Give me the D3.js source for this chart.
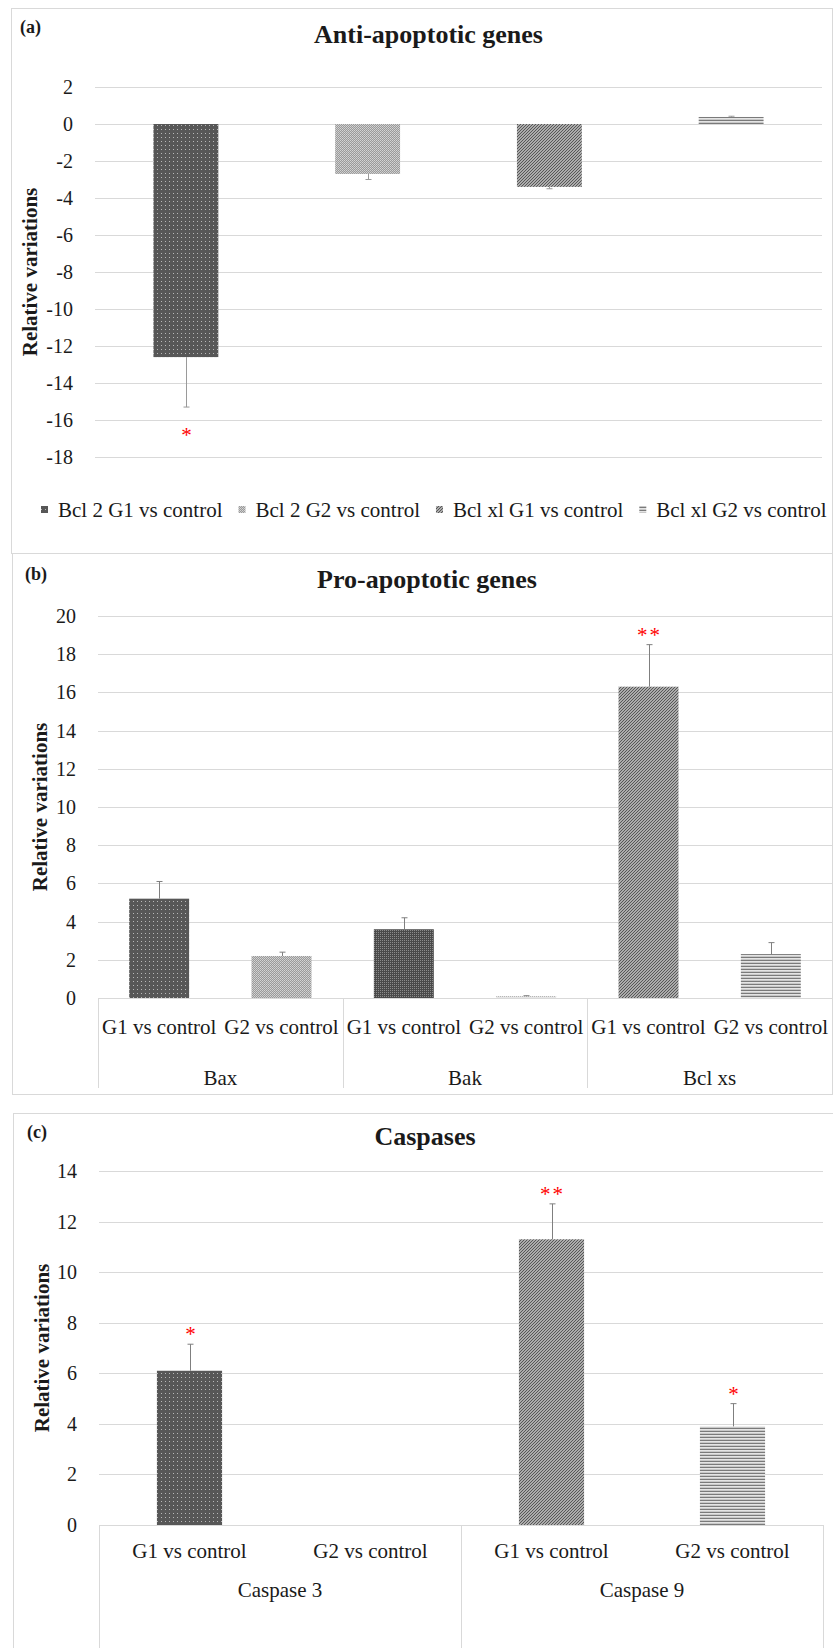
<!DOCTYPE html>
<html>
<head>
<meta charset="utf-8">
<script src="https://cdn.jsdelivr.net/npm/d3@7"></script>
<style>
  body { margin: 0; background: #fff; }
  svg, text { font-family: "Liberation Serif", "Times New Roman", serif; }
  text { fill: #1a1a1a; }
</style>
</head>
<body>
<script>
// panel (a) anti-apoptotic genes
var antiCats = ["Bcl 2 G1 vs control", "Bcl 2 G2 vs control", "Bcl xl G1 vs control", "Bcl xl G2 vs control"];
var antiVals = [-12.6, -2.7, -3.4, 0.38];
var antiErr = [2.7, 0.3, 0.1, 0.04];
var antiSig = ["*", "", "", ""];
var antiPat = ["dots", "mesh", "diag", "hlines"];
var antiTicks = [-18, -16, -14, -12, -10, -8, -6, -4, -2, 0, 2];

// panel (b) pro-apoptotic genes
var proGroups = ["Bax", "Bak", "Bcl xs"];
var subCats = ["G1 vs control", "G2 vs control"];
var proVals = [5.2, 2.2, 3.6, 0.1, 16.3, 2.3];
var proErr = [0.9, 0.2, 0.6, 0.02, 2.2, 0.6];
var proSig = ["", "", "", "", "**", ""];
var proPat = ["dots", "mesh", "darkmesh", "faint", "diag", "hlines"];
var proTicks = [0, 2, 4, 6, 8, 10, 12, 14, 16, 18, 20];

// panel (c) caspases
var caspGroups = ["Caspase 3", "Caspase 9"];
var caspVals = [6.1, 0, 11.3, 3.9];
var caspErr = [1.05, 0, 1.4, 0.9];
var caspSig = ["*", "", "**", "*"];
var caspPat = ["dots", "mesh", "diag", "hlines"];
var caspTicks = [0, 2, 4, 6, 8, 10, 12, 14];

var svg = d3.select("body").append("svg")
    .attr("width", 833)
    .attr("height", 1648)
    .attr("font-family", "Liberation Serif, serif");

// fill patterns like the excel ones
var defs = svg.append("defs");
function pattern(id, w, h, bg) {
  var p = defs.append("pattern").attr("id", id)
      .attr("patternUnits", "userSpaceOnUse")
      .attr("width", w).attr("height", h);
  p.append("rect").attr("width", w).attr("height", h).attr("fill", bg);
  return p;
}
var p1 = pattern("dots", 4, 4, "#575757");
p1.append("rect").attr("x", 1).attr("y", 1).attr("width", 1).attr("height", 1).attr("fill", "#b8b8b8");
var p2 = pattern("mesh", 2, 2, "#9a9a9a");
p2.append("rect").attr("width", 1).attr("height", 1).attr("fill", "#d4d4d4");
p2.append("rect").attr("x", 1).attr("y", 1).attr("width", 1).attr("height", 1).attr("fill", "#c8c8c8");
var p3 = pattern("darkmesh", 2, 2, "#4a4a4a");
p3.append("rect").attr("width", 1).attr("height", 1).attr("fill", "#8c8c8c");
var p4 = pattern("faint", 2, 2, "#e6e6e6");
p4.append("rect").attr("width", 1).attr("height", 1).attr("fill", "#b0b0b0");
var p5 = pattern("diag", 3, 3, "#d0d0d0");
p5.append("path").attr("d", "M0,3 L3,0 M-1,1 L1,-1 M2,4 L4,2")
    .attr("stroke", "#505050").attr("stroke-width", 1.1);
var p6 = pattern("hlines", 4, 3, "#e4e4e4");
p6.append("rect").attr("width", 4).attr("height", 1).attr("fill", "#7a7a7a");
p6.append("rect").attr("y", 2).attr("width", 4).attr("height", 0.6).attr("fill", "#b5b5b5");

// panel frames
function frame(x, y, w, h) {
  svg.append("rect").attr("x", x + 0.5).attr("y", y + 0.5)
      .attr("width", w).attr("height", h)
      .attr("fill", "none").attr("stroke", "#d9d9d9");
}
frame(11, 8, 821, 545);
frame(12, 553, 820, 541);
frame(13, 1113, 821, 560);

function drawPanel(o) {
  var y = d3.scaleLinear().domain(o.domain).range([o.bottom, o.top]);
  var x = d3.scaleBand().domain(d3.range(o.vals.length))
      .range([o.left, o.right])
      .paddingInner(o.pad).paddingOuter(o.pad / 2);

  svg.append("text").text(o.tag)
      .attr("x", o.tagX).attr("y", o.tagY)
      .attr("font-weight", "bold").attr("font-size", "18px");
  svg.append("text").text(o.title)
      .attr("x", (o.left + o.right) / 2 + o.titleShift).attr("y", o.titleY)
      .attr("text-anchor", "middle")
      .attr("font-weight", "bold").attr("font-size", "26px");

  // grid + ticks
  svg.append("g").selectAll("line").data(o.ticks).enter().append("line")
      .attr("x1", o.left).attr("x2", o.right)
      .attr("y1", function(d) { return Math.round(y(d)) + 0.5; })
      .attr("y2", function(d) { return Math.round(y(d)) + 0.5; })
      .attr("stroke", "#d9d9d9").attr("stroke-width", 1);
  svg.append("g").selectAll("text").data(o.ticks).enter().append("text")
      .text(function(d) { return d; })
      .attr("x", o.left - 22)
      .attr("y", function(d) { return y(d); })
      .attr("dy", "0.35em")
      .attr("text-anchor", "end")
      .attr("font-size", "20px");

  var yMid = (o.top + o.bottom) / 2;
  svg.append("text").text("Relative variations")
      .attr("transform", "translate(" + o.labelX + "," + yMid + ") rotate(-90)")
      .attr("text-anchor", "middle").attr("dy", "0.35em")
      .attr("font-weight", "bold").attr("font-size", "21px");

  var y0 = y(0);
  // bars
  svg.append("g").selectAll("rect").data(o.vals).enter().append("rect")
      .attr("x", function(d, i) { return x(i); })
      .attr("width", x.bandwidth())
      .attr("y", function(d) { return Math.min(y(d), y0); })
      .attr("height", function(d) { return Math.abs(y(d) - y0); })
      .attr("fill", function(d, i) { return "url(#" + o.pats[i] + ")"; });

  // error bars
  var eg = svg.append("g").attr("stroke", o.errColor).attr("stroke-width", 1);
  o.vals.forEach(function(v, i) {
    if (!o.errs[i]) return;
    var cx = Math.round(x(i) + x.bandwidth() / 2) + 0.5;
    var end = v < 0 ? v - o.errs[i] : v + o.errs[i];
    eg.append("line").attr("x1", cx).attr("x2", cx)
        .attr("y1", y(v)).attr("y2", y(end));
    eg.append("line").attr("x1", cx - 3).attr("x2", cx + 3)
        .attr("y1", y(end)).attr("y2", y(end));
    if (o.sig[i]) {
      var sy = v < 0 ? y(end) + 25 : y(end) - 13;
      svg.append("text").text(o.sig[i])
          .attr("x", cx).attr("y", sy + 10)
          .attr("text-anchor", "middle")
          .attr("letter-spacing", o.sig[i].length > 1 ? "2px" : "0px")
          .attr("font-size", "21px")
          .style("fill", "#ff0000");
    }
  });

  return { x: x, y: y };
}

// (a)
var a = drawPanel({
  tag: "(a)", tagX: 20, tagY: 33, title: "Anti-apoptotic genes", titleY: 43, titleShift: -30,
  left: 95, right: 822, top: 87, bottom: 457, domain: [-18, 2], ticks: antiTicks,
  pad: 0.643, vals: antiVals, errs: antiErr, sig: antiSig, pats: antiPat, labelX: 30,
  errColor: "#9a9a9a"
});

// legend for (a)
var lg = svg.append("g");
var lx = 41;
antiCats.forEach(function(c, i) {
  lg.append("rect").attr("x", lx).attr("y", 506).attr("width", 7).attr("height", 7)
      .attr("fill", "url(#" + antiPat[i] + ")");
  var t = lg.append("text").text(c)
      .attr("x", lx + 17).attr("y", 510).attr("dy", "0.35em")
      .attr("font-size", "21px");
  lx = lx + 17 + t.node().getComputedTextLength() + 16;
});

// multi level category axis
function catAxis(s, groups, nSub, left, right, y0, subY, groupY, lineEnd) {
  var step = (right - left) / groups.length;
  svg.append("line").attr("x1", left).attr("x2", right)
      .attr("y1", Math.round(y0) + 0.5).attr("y2", Math.round(y0) + 0.5)
      .attr("stroke", "#d9d9d9");
  d3.range(groups.length + 1).forEach(function(g) {
    var gx = Math.round(left + g * step) + 0.5;
    svg.append("line").attr("x1", gx).attr("x2", gx)
        .attr("y1", y0).attr("y2", lineEnd)
        .attr("stroke", "#d9d9d9");
  });
  groups.forEach(function(g, gi) {
    subCats.forEach(function(sc, si) {
      var i = gi * nSub + si;
      svg.append("text").text(sc)
          .attr("x", s.x(i) + s.x.bandwidth() / 2).attr("y", subY)
          .attr("text-anchor", "middle").attr("font-size", "21px");
    });
    svg.append("text").text(g)
        .attr("x", left + (gi + 0.5) * step).attr("y", groupY)
        .attr("text-anchor", "middle").attr("font-size", "21px");
  });
}

// (b)
var b = drawPanel({
  tag: "(b)", tagX: 25, tagY: 580, title: "Pro-apoptotic genes", titleY: 588, titleShift: -38,
  left: 98, right: 832, top: 616, bottom: 998, domain: [0, 20], ticks: proTicks,
  pad: 0.51, vals: proVals, errs: proErr, sig: proSig, pats: proPat, labelX: 40,
  errColor: "#7f7f7f"
});
catAxis(b, proGroups, 2, 98, 832, 998, 1034, 1085, 1088);

// (c)
var c = drawPanel({
  tag: "(c)", tagX: 27, tagY: 1138, title: "Caspases", titleY: 1145, titleShift: -36,
  left: 99, right: 823, top: 1171, bottom: 1525, domain: [0, 14], ticks: caspTicks,
  pad: 0.64, vals: caspVals, errs: caspErr, sig: caspSig, pats: caspPat, labelX: 42,
  errColor: "#7f7f7f"
});
catAxis(c, caspGroups, 2, 99, 823, 1525, 1558, 1597, 1648);
</script>
</body>
</html>
